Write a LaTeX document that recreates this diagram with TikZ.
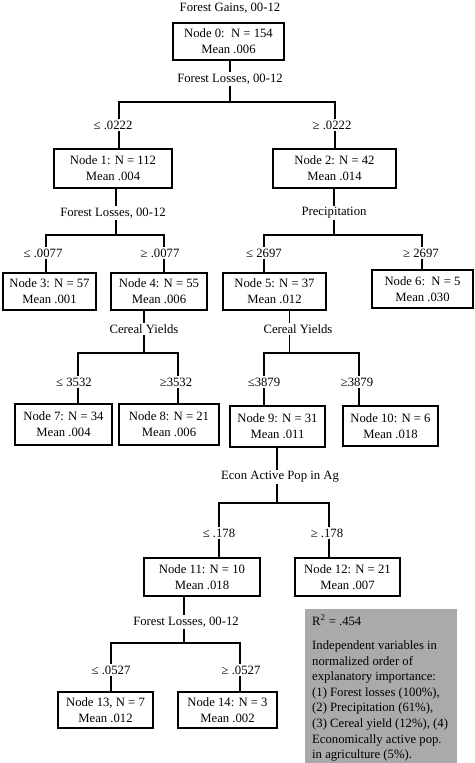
\documentclass[tikz,border=0pt]{standalone}
\usepackage{fontspec}
\setmainfont{Liberation Serif}
\definecolor{boxgray}{RGB}{170,170,170}
\tikzset{
  sz/.style 2 args={minimum width=#1pt, minimum height=#2pt},
  treebox/.style={draw, line width=1.4pt, align=center, inner sep=0pt},
  lbl/.style={inner sep=1.5pt},
  conn/.style={line width=1.4pt, line join=miter}
}
\begin{document}
\begin{tikzpicture}[x=1pt,y=-1pt, every node/.append style={font=\fontsize{12.7}{16}\selectfont}]
\useasboundingbox[fill=white] (0,0) rectangle (474,763);

% ---- level 0
\node[lbl] (t0) at (230,8) {Forest Gains, 00-12};
\node[treebox, sz={111}{37}] (n0) at (228.5,41.5) {Node 0:\ \ N = 154\\Mean .006};
\node[lbl] (l0) at (230,79) {Forest Losses, 00-12};
\coordinate (b0) at (230,102);
\coordinate (j1) at (119,102);
\coordinate (j2) at (335,102);
\node[lbl] (c1) at (113,125) {≤ .0222};
\node[lbl] (c2) at (332,125) {≥ .0222};
\draw[conn] (b0 |- n0.south) -- (b0 |- l0.north);
\draw[conn] (b0 |- l0.south) -- (b0);
\draw[conn] (j1 |- c1.north) -- (j1) -- (j2) -- (j2 |- c2.north);

% ---- level 1
\node[treebox, sz={118}{39}] (n1) at (113,168.5) {Node 1: N = 112\\Mean .004};
\node[treebox, sz={123}{39}] (n2) at (334.5,168.5) {Node 2: N = 42\\Mean .014};
\draw[conn] (j1 |- c1.south) -- (j1 |- n1.north);
\draw[conn] (j2 |- c2.south) -- (j2 |- n2.north);

% ---- split of node 1
\node[lbl] (l1) at (113,213) {Forest Losses, 00-12};
\coordinate (b1) at (116,235);
\coordinate (j3) at (46,235);
\coordinate (j4) at (164,235);
\node[lbl] (c3) at (43,253) {≤ .0077};
\node[lbl] (c4) at (160,253) {≥ .0077};
\draw[conn] (b1 |- n1.south) -- (b1 |- l1.north);
\draw[conn] (b1 |- l1.south) -- (b1);
\draw[conn] (j3 |- c3.north) -- (j3) -- (j4) -- (j4 |- c4.north);
\node[treebox, sz={93}{37}] (n3) at (49.5,291.5) {Node 3: N = 57\\Mean .001};
\node[treebox, sz={96}{37}] (n4) at (159,291.5) {Node 4: N = 55\\Mean .006};
\draw[conn] (j3 |- c3.south) -- (j3 |- n3.north);
\draw[conn] (j4 |- c4.south) -- (j4 |- n4.north);

% ---- split of node 2
\node[lbl] (l2) at (334,213) {Precipitation};
\coordinate (b2) at (334,235);
\coordinate (j5) at (264,235);
\coordinate (j6) at (422,235);
\node[lbl] (c5) at (264,253) {≤ 2697};
\node[lbl] (c6) at (421,253) {≥ 2697};
\draw[conn] (b2 |- n2.south) -- (b2 |- l2.north);
\draw[conn] (b2 |- l2.south) -- (b2);
\draw[conn] (j5 |- c5.north) -- (j5) -- (j6) -- (j6 |- c6.north);
\node[treebox, sz={103}{37}] (n5) at (274.5,291.5) {Node 5: N = 37\\Mean .012};
\node[treebox, sz={101}{38}] (n6) at (422.5,289) {Node 6:\ \ N = 5\\Mean .030};
\draw[conn] (j5 |- c5.south) -- (j5 |- n5.north);
\draw[conn] (j6 |- c6.south) -- (j6 |- n6.north);

% ---- split of node 4
\node[lbl] (l3) at (144,329) {Cereal Yields};
\coordinate (b3) at (144,353);
\coordinate (j7) at (78,353);
\coordinate (j8) at (178,353);
\node[lbl] (c7) at (74,382) {≤ 3532};
\node[lbl] (c8) at (176,382) {≥3532};
\draw[conn] (b3 |- n4.south) -- (b3 |- l3.north);
\draw[conn] (b3 |- l3.south) -- (b3);
\draw[conn] (j7 |- c7.north) -- (j7) -- (j8) -- (j8 |- c8.north);
\node[treebox, sz={97}{41}] (n7) at (63.5,424.5) {Node 7: N = 34\\Mean .004};
\node[treebox, sz={100}{41}] (n8) at (169,424.5) {Node 8: N = 21\\Mean .006};
\draw[conn] (j7 |- c7.south) -- (j7 |- n7.north);
\draw[conn] (j8 |- c8.south) -- (j8 |- n8.north);

% ---- split of node 5
\node[lbl] (l4) at (298,329) {Cereal Yields};
\coordinate (b4) at (289.5,353);
\coordinate (j9) at (264,353);
\coordinate (j10) at (359,353);
\node[lbl] (c9) at (264,382) {≤3879};
\node[lbl] (c10) at (357,382) {≥3879};
\draw[conn] (b4 |- n5.south) -- (b4 |- l4.north);
\draw[conn] (b4 |- l4.south) -- (b4);
\draw[conn] (j9 |- c9.north) -- (j9) -- (j10) -- (j10 |- c10.north);
\node[treebox, sz={95}{41}] (n9) at (277.5,426.5) {Node 9: N = 31\\Mean .011};
\node[treebox, sz={95}{40}] (n10) at (390.5,426) {Node 10: N = 6\\Mean .018};
\draw[conn] (j9 |- c9.south) -- (j9 |- n9.north);
\draw[conn] (j10 |- c10.south) -- (j10 |- n10.north);

% ---- split of node 9
\node[lbl] (l5) at (280,477) {Econ Active Pop in Ag};
\coordinate (b5) at (277,503);
\coordinate (j11) at (219,503);
\coordinate (j12) at (329,503);
\node[lbl] (c11) at (219,533) {≤ .178};
\node[lbl] (c12) at (327,533) {≥ .178};
\draw[conn] (b5 |- n9.south) -- (b5 |- l5.north);
\draw[conn] (b5 |- l5.south) -- (b5);
\draw[conn] (j11 |- c11.north) -- (j11) -- (j12) -- (j12 |- c12.north);
\node[treebox, sz={116}{38}] (n11) at (202,577) {Node 11: N = 10\\Mean .018};
\node[treebox, sz={105}{38}] (n12) at (347.5,577) {Node 12: N = 21\\Mean .007};
\draw[conn] (j11 |- c11.south) -- (j11 |- n11.north);
\draw[conn] (j12 |- c12.south) -- (j12 |- n12.north);

% ---- split of node 11
\node[lbl] (l6) at (186,622) {Forest Losses, 00-12};
\coordinate (b6) at (184,643);
\coordinate (j13) at (111,643);
\coordinate (j14) at (240,643);
\node[lbl] (c13) at (111,670) {≤ .0527};
\node[lbl] (c14) at (241,670) {≥ .0527};
\draw[conn] (b6 |- n11.south) -- (b6 |- l6.north);
\draw[conn] (b6 |- l6.south) -- (b6);
\draw[conn] (j13 |- c13.north) -- (j13) -- (j14) -- (j14 |- c14.north);
\node[treebox, sz={95}{36}] (n13) at (105.5,710) {Node 13, N = 7\\Mean .012};
\node[treebox, sz={99}{36}] (n14) at (227.5,710) {Node 14: N = 3\\Mean .002};
\draw[conn] (j13 |- c13.south) -- (j13 |- n13.north);
\draw[conn] (j14 |- c14.south) -- (j14 |- n14.north);

% ---- legend
\node[fill=boxgray, anchor=north west, inner sep=0pt, minimum width=152pt, minimum height=154pt] (legend) at (305,609) {};
\node[anchor=base west, inner sep=0pt] (r2) at (312,625) {R\textsuperscript{2} = .454};
\node[anchor=north west, inner sep=0pt, align=left, font=\fontsize{12.7}{15.6}\selectfont] (legtext) at (312,640.5)
 {Independent variables in\\normalized order of\\explanatory importance:\\(1) Forest losses (100\%),\\(2) Precipitation (61\%),\\(3) Cereal yield (12\%), (4)\\Economically active pop.\\in agriculture (5\%).};
\end{tikzpicture}
\end{document}
